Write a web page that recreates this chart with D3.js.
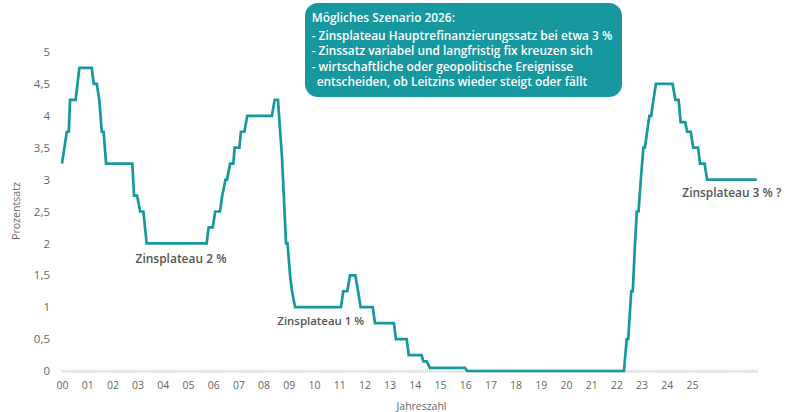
<!DOCTYPE html>
<html>
<head>
<meta charset="utf-8">
<script src="https://cdn.jsdelivr.net/npm/d3@7"></script>
<style>
  html, body { margin: 0; padding: 0; background: #fff; }
  svg { display: block; }
  text { font-family: "Open Sans", "Noto Sans", sans-serif; }
</style>
</head>
<body>
<svg id="chart" width="792" height="412"></svg>
<script>
// ---- Data (decimal year offsets from 2000, rate in %) ----
const years = [
  0.00, 0.19, 0.27, 0.32, 0.54, 0.69, 1.18, 1.26, 1.38, 1.48, 1.58, 1.65, 1.75,
  2.79, 2.86, 2.98, 3.10, 3.23, 3.36,
  5.74, 5.82, 5.98, 6.08, 6.27, 6.36, 6.49, 6.55, 6.67, 6.80, 6.85, 7.04, 7.10, 7.24, 7.35,
  8.33, 8.44, 8.57, 8.73, 8.89, 8.95, 9.05, 9.13, 9.25,
  11.07, 11.16, 11.32, 11.43, 11.64, 11.75, 11.85,
  12.33, 12.42, 13.17, 13.25, 13.68, 13.76, 14.27, 14.34, 14.47, 14.60,
  15.99, 16.08,
  22.30, 22.41, 22.47, 22.59, 22.65, 22.74, 22.81, 22.88, 22.97, 23.07, 23.13, 23.22, 23.31,
  23.38, 23.47, 23.57,
  24.23, 24.34, 24.47, 24.55, 24.73, 24.81, 24.95, 25.05, 25.24, 25.32, 25.50, 25.60, 27.57
];
const rates = [
  3.25, 3.75, 3.75, 4.25, 4.25, 4.75, 4.75, 4.5, 4.5, 4.25, 3.75, 3.75, 3.25,
  3.25, 2.75, 2.75, 2.5, 2.5, 2.0,
  2.0, 2.25, 2.25, 2.5, 2.5, 2.75, 3.0, 3.0, 3.25, 3.25, 3.5, 3.5, 3.75, 3.75, 4.0,
  4.0, 4.25, 4.25, 3.35, 2.0, 2.0, 1.5, 1.25, 1.0,
  1.0, 1.25, 1.25, 1.5, 1.5, 1.25, 1.0,
  1.0, 0.75, 0.75, 0.5, 0.5, 0.25, 0.25, 0.15, 0.15, 0.05,
  0.05, 0.0,
  0.0, 0.5, 0.5, 1.25, 1.25, 2.0, 2.5, 2.5, 3.0, 3.5, 3.5, 3.75, 4.0,
  4.0, 4.25, 4.5,
  4.5, 4.25, 4.25, 3.9, 3.9, 3.75, 3.75, 3.5, 3.5, 3.25, 3.25, 3.0, 3.0
];
const xTickYears = d3.range(0, 26);          // labels 00 .. 25
const yTicks = [0, 0.5, 1, 1.5, 2, 2.5, 3, 3.5, 4, 4.5, 5];
const plateauLabels = ["Zinsplateau 2 %", "Zinsplateau 1 %", "Zinsplateau 3 % ?"];
const noteLines = [
  "Mögliches Szenario 2026:",
  "- Zinsplateau Hauptrefinanzierungssatz bei etwa 3 %",
  "- Zinssatz variabel und langfristig fix kreuzen sich",
  "- wirtschaftliche oder geopolitische Ereignisse",
  "  entscheiden, ob Leitzins wieder steigt oder fällt"
];
const xTitle = "Jahreszahl";
const yTitle = "Prozentsatz";

// ---- Layout ----
const teal = "#17989f";
const svg = d3.select("#chart");
const x = d3.scaleLinear().domain([0, 27.62]).range([62, 758]);
const y = d3.scaleLinear().domain([0, 5]).range([371, 52]);
const de = d3.formatLocale({decimal: ",", thousands: ".", grouping: [3], currency: ["", " €"]});
const fmtY = de.format("~g");

function fit(sel, w) {
  const n = sel.node();
  const fs = parseFloat(sel.style("font-size"));
  const cur = n.getComputedTextLength();
  sel.style("font-size", (fs * w / cur).toFixed(2) + "px");
}

// Monthly minor ticks on x axis
const monthTicks = d3.range(0, 27.62, 1 / 12);
const gx = svg.append("g").attr("transform", "translate(0,372)");
gx.append("line").attr("x1", x(0)).attr("x2", x(27.62)).attr("y1", 0).attr("y2", 0)
  .attr("stroke", "#dcdcdc").attr("stroke-width", 1);
gx.selectAll("line.minor").data(monthTicks).join("line").attr("class", "minor")
  .attr("x1", d => x(d)).attr("x2", d => x(d)).attr("y1", -2.5).attr("y2", 0)
  .attr("stroke", "#cfcfcf").attr("stroke-width", 0.8);

const xAxis = d3.axisBottom(x).tickValues(xTickYears)
  .tickFormat(d => String(d).padStart(2, "0")).tickSize(0).tickPadding(10);
const gxa = svg.append("g").attr("transform", "translate(0,372)").call(xAxis);
gxa.select(".domain").remove();
gxa.selectAll("text").attr("fill", "#666").style("font-size", "10.5px")
  .style("font-family", "'Open Sans', sans-serif");

const yAxis = d3.axisLeft(y).tickValues(yTicks).tickFormat(fmtY).tickSize(0).tickPadding(0);
const gya = svg.append("g").attr("transform", "translate(50,0)").call(yAxis);
gya.select(".domain").remove();
gya.selectAll("text").attr("fill", "#666").style("font-size", "11.5px")
  .style("font-family", "'Open Sans', sans-serif");

// Axis titles
const xt = svg.append("text").attr("x", 421.5).attr("y", 410).attr("text-anchor", "middle")
  .attr("fill", "#666").style("font-size", "11px").text(xTitle);
fit(xt, 50);
const yt = svg.append("text").attr("transform", "translate(19.5,211) rotate(-90)").attr("text-anchor", "middle")
  .attr("fill", "#666").style("font-size", "11px").text(yTitle);
fit(yt, 58);

// Line
const pts = years.map((t, i) => [t, rates[i]]);
svg.append("path").datum(pts)
  .attr("fill", "none").attr("stroke", teal).attr("stroke-width", 2.7)
  .attr("stroke-linejoin", "miter")
  .attr("d", d3.line().x(d => x(d[0])).y(d => y(d[1])));

// Plateau labels
const labelPos = [[135.5, 262.5, 91], [277.3, 324.5, 87], [682.3, 196.5, 99]];
plateauLabels.forEach((s, i) => {
  const t = svg.append("text").attr("x", labelPos[i][0]).attr("y", labelPos[i][1])
    .attr("fill", "#555").style("font-size", "12px").style("font-weight", 600).text(s);
  fit(t, labelPos[i][2]);
});

// Annotation box
svg.append("rect").attr("x", 305).attr("y", 3).attr("width", 317).attr("height", 94)
  .attr("rx", 13).attr("fill", teal);
const noteG = svg.append("g");
const lineYs = [22, 39.5, 55, 71, 86];
const t2 = noteG.append("text").attr("x", 311.7).attr("y", lineYs[1])
  .attr("fill", "#fff").style("font-size", "12px").style("font-weight", 600).text(noteLines[1]);
fit(t2, 301);
const noteFs = t2.style("font-size");
noteLines.forEach((s, i) => {
  if (i === 1) return;
  noteG.append("text").attr("x", i === 4 ? 316.7 : 311.7).attr("y", lineYs[i])
    .attr("fill", "#fff").style("font-size", noteFs).style("font-weight", 600)
    .text(s.trim());
});
</script>
</body>
</html>
